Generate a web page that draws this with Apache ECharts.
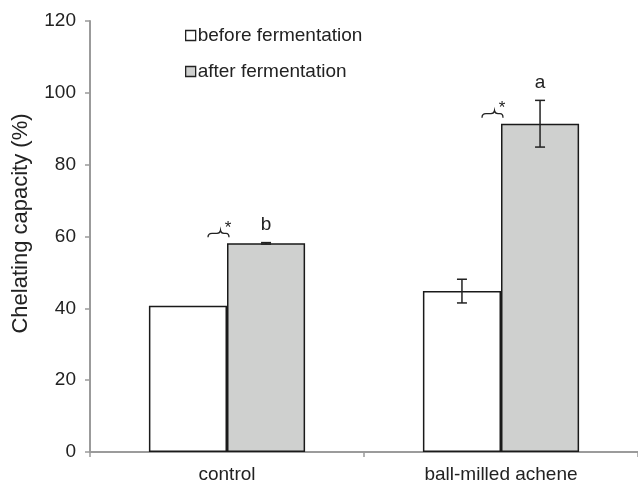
<!DOCTYPE html>
<html>
<head>
<meta charset="utf-8">
<script src="https://cdn.jsdelivr.net/npm/echarts@6/dist/echarts.min.js"></script>
<style>html,body{margin:0;padding:0;background:#fff;}#chart{width:638px;height:484px;}</style>
</head>
<body>
<div id="chart"></div>
<script>
var categories = ['control', 'ball-milled achene'];
var seriesNames = ['before fermentation', 'after fermentation'];
var beforeValues = [40.7, 44.8];
var beforeErrors = [0, 3.3];
var afterValues = [58.1, 91.4];
var afterErrors = [0.2, 6.5];
var groupLetters = ['b', 'a'];
var significance = ['*', '*'];
var yTicks = { min: 0, max: 120, interval: 20 };

var GAP = 0.43;
var FONT = 'Liberation Sans, Arial, sans-serif';
var chart = echarts.init(document.getElementById('chart'), null, { renderer: 'canvas' });

var overlayData = categories.map(function (c, i) {
  return [i, beforeValues[i], beforeErrors[i], afterValues[i], afterErrors[i]];
});

function renderOverlay(params, api) {
  var i = api.value(0);
  var bVal = api.value(1), bErr = api.value(2), aVal = api.value(3), aErr = api.value(4);
  var catW = api.size([1, 0])[0];
  var barW = catW * (1 - GAP) / 2;
  var cx = api.coord([i, 0])[0];
  var bx = cx - barW / 2, ax = cx + barW / 2;
  var children = [];
  var cap = 5;
  var style = { stroke: '#222', lineWidth: 1.5 };
  function errBar(x, v, e) {
    if (e <= 0.05) return;
    var yt = api.coord([i, v + e])[1], yb = api.coord([i, v - e])[1];
    children.push({ type: 'line', shape: { x1: x, y1: yt, x2: x, y2: yb }, style: style });
    children.push({ type: 'line', shape: { x1: x - cap, y1: yt, x2: x + cap, y2: yt }, style: style });
    children.push({ type: 'line', shape: { x1: x - cap, y1: yb, x2: x + cap, y2: yb }, style: style });
  }
  errBar(bx, bVal, bErr);
  errBar(ax, aVal, aErr);
  var yTop = api.coord([i, aVal + aErr])[1];
  children.push({ type: 'text', x: ax, y: yTop - 8, style: { text: groupLetters[i], fill: '#222', font: '19px ' + FONT, textAlign: 'center', textVerticalAlign: 'bottom' } });
  var yBar = api.coord([i, aVal])[1];
  var x0 = cx - 19, yb0 = yBar - 6;
  var path = 'M' + x0 + ',' + yb0 + ' Q' + x0 + ',' + (yb0 - 4) + ' ' + (x0 + 4) + ',' + (yb0 - 4) +
    ' L' + (x0 + 9) + ',' + (yb0 - 4) + ' Q' + (x0 + 12) + ',' + (yb0 - 4) + ' ' + (x0 + 12.5) + ',' + (yb0 - 7) +
    ' Q' + (x0 + 13) + ',' + (yb0 - 4) + ' ' + (x0 + 16) + ',' + (yb0 - 4) +
    ' L' + (x0 + 18) + ',' + (yb0 - 4) + ' Q' + (x0 + 21) + ',' + (yb0 - 4) + ' ' + (x0 + 21) + ',' + yb0;
  children.push({ type: 'path', shape: { pathData: path }, style: { stroke: '#222', lineWidth: 1.3, fill: null } });
  children.push({ type: 'text', x: cx + 1, y: yBar - 7, style: { text: significance[i], fill: '#222', font: '17px ' + FONT, textAlign: 'center', textVerticalAlign: 'bottom' } });
  return { type: 'group', children: children };
}

var axisGray = '#9b9b9b';
chart.setOption({
  animation: false,
  textStyle: { fontFamily: FONT },
  grid: { left: 90, right: 0, top: 21, bottom: 31, containLabel: false },
  legend: {
    data: seriesNames,
    orient: 'vertical',
    left: 180, top: 21,
    itemWidth: 10, itemHeight: 10, itemGap: 17,
    icon: 'rect',
    itemStyle: { borderColor: '#222', borderWidth: 1.3 },
    textStyle: { fontSize: 19, color: '#222', fontFamily: FONT, padding: [0, 0, 0, -3] }
  },
  xAxis: {
    type: 'category',
    data: categories,
    axisLine: { lineStyle: { color: axisGray, width: 2 } },
    axisTick: { show: true, length: 5, lineStyle: { color: axisGray, width: 1.5 } },
    axisLabel: { fontSize: 19, color: '#222', margin: 13 }
  },
  yAxis: {
    type: 'value',
    min: yTicks.min, max: yTicks.max, interval: yTicks.interval,
    name: 'Chelating capacity (%)',
    nameLocation: 'middle', nameGap: 58, nameRotate: 90,
    nameTextStyle: { fontSize: 22, color: '#222', padding: [0, 0, 0, 26] },
    axisLine: { show: true, lineStyle: { color: axisGray, width: 2 } },
    axisTick: { show: true, length: 5, lineStyle: { color: axisGray, width: 1.5 } },
    axisLabel: { fontSize: 19, color: '#222', margin: 14 },
    splitLine: { show: false }
  },
  series: [
    {
      name: seriesNames[0], type: 'bar', data: beforeValues,
      barGap: '0%', barCategoryGap: (GAP * 100) + '%',
      itemStyle: { color: '#ffffff', borderColor: '#1a1a1a', borderWidth: 1.5 }
    },
    {
      name: seriesNames[1], type: 'bar', data: afterValues,
      barGap: '0%', barCategoryGap: (GAP * 100) + '%',
      itemStyle: { color: '#cfd0cf', borderColor: '#1a1a1a', borderWidth: 1.5 }
    },
    {
      type: 'custom', name: 'overlay', data: overlayData,
      encode: { x: 0, y: [1, 3] },
      renderItem: renderOverlay, z: 10, silent: true
    }
  ]
});
</script>
</body>
</html>
